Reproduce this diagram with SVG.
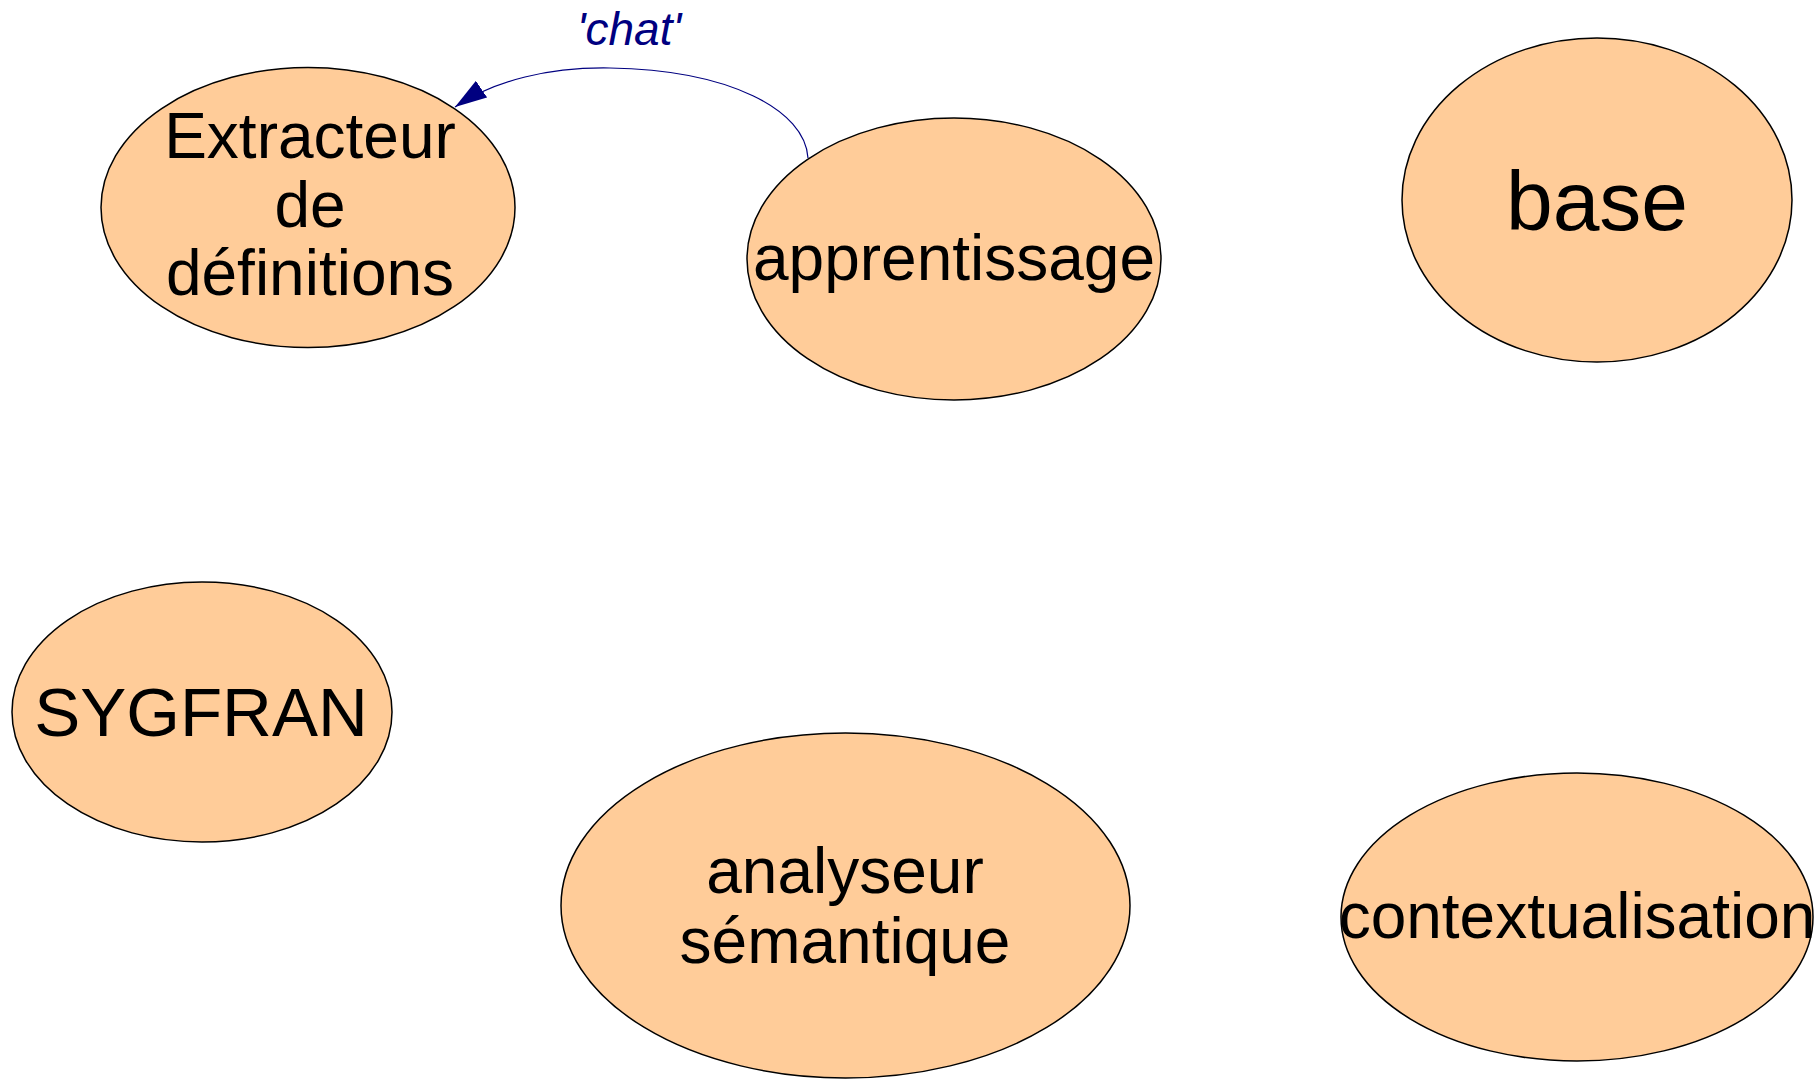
<svg xmlns="http://www.w3.org/2000/svg" width="1820" height="1080" viewBox="0 0 1820 1080">
<style>
.node ellipse{fill:#FFCC99;stroke:#000;stroke-width:1.5}
.node text{font-family:"Liberation Sans",Arial,sans-serif;fill:#000;text-anchor:middle;font-size:64px}
.edge{fill:none;stroke:#000080;stroke-width:1.2}
.elabel{font-family:"Liberation Sans",Arial,sans-serif;font-style:italic;fill:#000080;text-anchor:middle;font-size:46px}
</style>
<defs>
<marker id="arr" viewBox="0 0 32 20" refX="32" refY="10" markerWidth="32" markerHeight="20" markerUnits="userSpaceOnUse" orient="auto">
<path d="M0,0 L32,10 L0,20 z" fill="#000080"/>
</marker>
</defs>
<rect width="1820" height="1080" fill="#fff"/>
<g id="connectors">
<path class="edge" d="M808,158 C805,110 730,70 610,68 C550,67 495,80 455,107" marker-end="url(#arr)"/>
<text class="elabel" x="629" y="45">'chat'</text>
</g>
<g id="node-extracteur" class="node">
<ellipse cx="308" cy="207.5" rx="207" ry="140"/>
<text x="310" y="158">Extracteur</text>
<text x="310" y="227">de</text>
<text x="310" y="295">définitions</text>
</g>
<g id="node-apprentissage" class="node">
<ellipse cx="954" cy="259" rx="207" ry="141"/>
<text x="954" y="280">apprentissage</text>
</g>
<g id="node-base" class="node">
<ellipse cx="1597" cy="200" rx="195" ry="162"/>
<text style="font-size:84px" x="1597" y="230">base</text>
</g>
<g id="node-sygfran" class="node">
<ellipse cx="202" cy="712" rx="190" ry="130"/>
<text style="font-size:69px" x="201" y="736">SYGFRAN</text>
</g>
<g id="node-analyseur" class="node">
<ellipse cx="845.5" cy="905.5" rx="284.5" ry="172.5"/>
<text x="845" y="893">analyseur</text>
<text x="845" y="963">sémantique</text>
</g>
<g id="node-contextualisation" class="node">
<ellipse cx="1577" cy="917" rx="236" ry="144"/>
<text x="1577" y="938">contextualisation</text>
</g>
</svg>
